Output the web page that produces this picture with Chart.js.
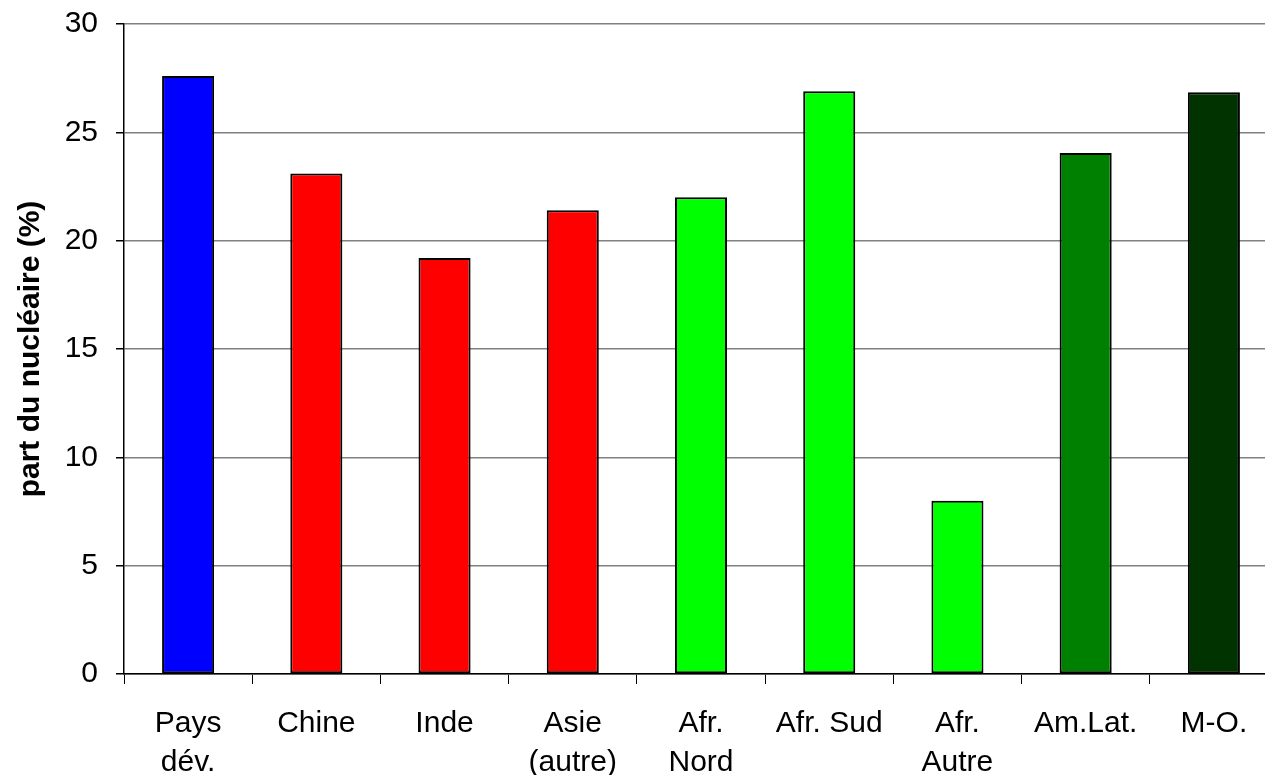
<!DOCTYPE html>
<html lang="fr">
<head>
<meta charset="utf-8">
<title>Part du nucléaire par région</title>
<script src="https://cdn.jsdelivr.net/npm/chart.js@4.4.1/dist/chart.umd.min.js"></script>
<style>
  html, body { margin: 0; padding: 0; background: #fff; overflow: hidden; }
  #wrap { width: 1300px; height: 775px; }
</style>
</head>
<body>
<div id="wrap"><canvas id="c" width="1300" height="775"></canvas></div>
<script>
// Régions (libellés sur deux lignes si nécessaire)
const categories = [
  ['Pays', 'dév.'], 'Chine', 'Inde', ['Asie', '(autre)'],
  ['Afr.', 'Nord'], 'Afr. Sud', ['Afr.', 'Autre'], 'Am.Lat.', 'M-O.'
];
// Part du nucléaire (%)
const parts = [27.6, 23.1, 19.2, 21.4, 22.0, 26.9, 8.0, 24.05, 26.85];
// Graduations de l'axe vertical
const yMin = 0;
const yMax = 30;
const yStep = 5;

const barColors = ['#0000ff', '#ff0000', '#ff0000', '#ff0000',
                   '#00ff00', '#00ff00', '#00ff00', '#008000', '#003300'];

const FONT = '"Liberation Sans", Arial, sans-serif';

new Chart(document.getElementById('c'), {
  type: 'bar',
  data: {
    labels: categories,
    datasets: [{
      data: parts,
      backgroundColor: barColors,
      borderColor: '#000',
      borderWidth: 2,
      borderSkipped: false,
      categoryPercentage: 1,
      barPercentage: 0.406
    }]
  },
  options: {
    responsive: false,
    animation: false,
    devicePixelRatio: 1,
    layout: { padding: { top: 23, right: 22, left: 0, bottom: 0 } },
    plugins: { legend: { display: false }, tooltip: { enabled: false } },
    scales: {
      x: {
        offset: true,
        grid: {
          offset: true,
          drawOnChartArea: false,
          drawTicks: true,
          tickLength: 10,
          tickColor: '#000',
          tickWidth: 1
        },
        border: { color: '#000', width: 1.5 },
        ticks: {
          color: '#000',
          maxRotation: 0,
          autoSkip: false,
          padding: 20,
          font: { family: FONT, size: 30, lineHeight: 1.3 }
        },
        afterFit: s => { s.height = 101; }
      },
      y: {
        min: yMin,
        max: yMax,
        grid: {
          color: '#808080',
          lineWidth: 1.5,
          drawTicks: true,
          tickLength: 8,
          tickColor: '#000'
        },
        border: { color: '#000', width: 1.5 },
        ticks: {
          stepSize: yStep,
          color: '#000',
          padding: 18,
          font: { family: FONT, size: 30, lineHeight: 0.4 }
        },
        title: {
          display: true,
          text: 'part du nucléaire (%)',
          color: '#000',
          padding: { top: 13, bottom: 0 },
          font: { family: FONT, size: 30, weight: 'bold' }
        },
        afterFit: s => { s.width = 124; }
      }
    }
  }
});
</script>
</body>
</html>
